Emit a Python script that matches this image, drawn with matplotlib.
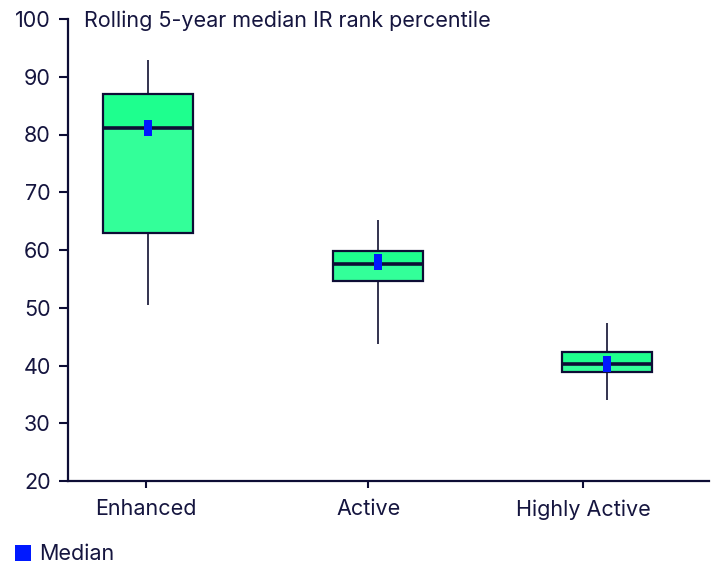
import matplotlib
matplotlib.use("Agg")
import matplotlib.pyplot as plt
from matplotlib.lines import Line2D
from matplotlib.transforms import blended_transform_factory
import numpy as np

plt.rcParams['font.family'] = ['Inter', 'DejaVu Sans']

# ---- data ----
categories = ["Enhanced", "Active", "Highly Active"]
whisker_low = [50.5, 43.7, 34.1]
q1 = [62.9, 54.6, 38.8]
median = [81.1, 57.6, 40.2]
q3 = [87.0, 59.9, 42.3]
whisker_high = [92.9, 65.2, 47.3]
median_marker = [81.1, 57.9, 40.3]
y_ticks = [20, 30, 40, 50, 60, 70, 80, 90, 100]
title = "Rolling 5-year median IR rank percentile"
legend_label = "Median"

# ---- style ----
navy = "#0d0d35"
text_color = "#15153f"
upper_fill = "#1eff8e"
lower_fill = "#33ff99"
whisker_color = "#33334f"
marker_color = "#0019ff"
box_w = 0.392
fs = 15.5

fig = plt.figure(figsize=(7.18, 5.66), dpi=100)
ax = fig.add_axes([68/718, 85/566, (709-68)/718, (481-19)/566])

x = np.arange(len(categories))
q1a, meda, q3a = np.array(q1), np.array(median), np.array(q3)

ax.vlines(x, whisker_low, q1, color=whisker_color, lw=1.4, zorder=1)
ax.vlines(x, q3, whisker_high, color=whisker_color, lw=1.4, zorder=1)
ax.bar(x, meda - q1a, bottom=q1a, width=box_w, color=lower_fill, lw=0, zorder=2)
ax.bar(x, q3a - meda, bottom=meda, width=box_w, color=upper_fill, lw=0, zorder=2)
ax.bar(x, q3a - q1a, bottom=q1a, width=box_w, fill=False, edgecolor=navy, lw=1.6, zorder=3)
ax.hlines(median, x - box_w/2, x + box_w/2, color=navy, lw=2.6, zorder=4)

rect = [(-0.28, -0.5), (0.28, -0.5), (0.28, 0.5), (-0.28, 0.5), (-0.28, -0.5)]
ax.plot(x, median_marker, ls='none', marker=rect, markersize=11.5,
        markerfacecolor=marker_color, markeredgewidth=0, zorder=5)

ax.set_ylim(20, 100)
ax.set_xlim(-0.3486, 2.444)
ax.set_yticks(y_ticks)
tick_offsets = [-0.01, -0.041, -0.105]
ax.set_xticks(x + np.array(tick_offsets))
ax.set_xticklabels(categories)

for s in ['top', 'right']:
    ax.spines[s].set_visible(False)
for s in ['left', 'bottom']:
    ax.spines[s].set_color(navy)
    ax.spines[s].set_linewidth(1.6)

ax.tick_params(axis='y', length=6.5, width=1.5, color=navy, pad=6,
               labelsize=fs, labelcolor=text_color)
ax.tick_params(axis='x', length=5, width=1.5, color=navy, pad=8,
               labelsize=fs, labelcolor=text_color)

ax.text(0.025, 100, title, transform=blended_transform_factory(ax.transAxes, ax.transData),
        ha='left', va='center_baseline', fontsize=fs, color=text_color)

handle = Line2D([], [], ls='none', marker='s', markersize=11.5,
                markerfacecolor=marker_color, markeredgewidth=0)
fig.legend([handle], [legend_label], loc='lower left', bbox_to_anchor=(0.006, -0.016),
           frameon=False, fontsize=fs, labelcolor=text_color,
           handlelength=0.7, handletextpad=0.4, borderaxespad=0.1)

fig.savefig("out.png", dpi=100)
